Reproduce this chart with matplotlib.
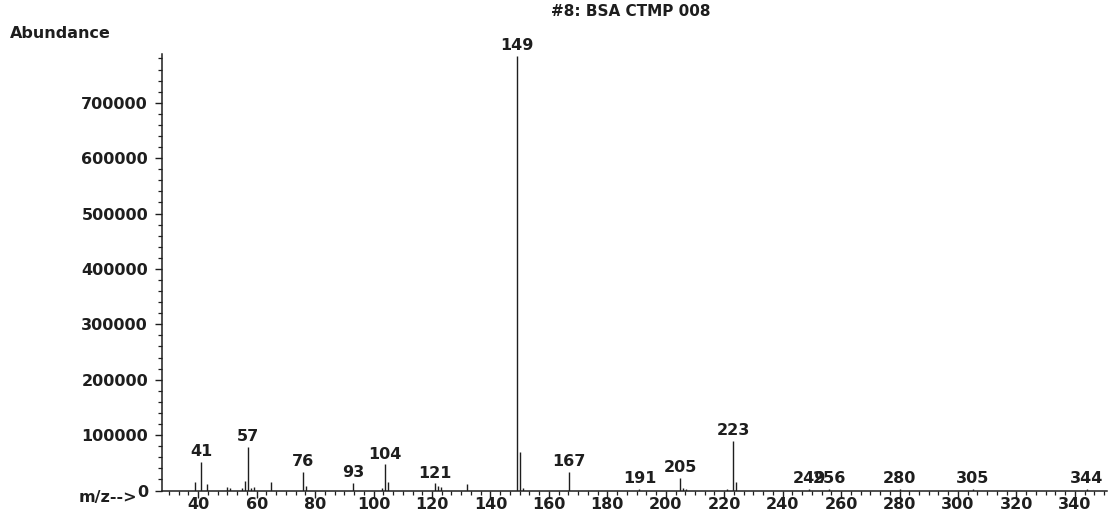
import matplotlib
matplotlib.use("Agg")
import matplotlib.pyplot as plt
from matplotlib.ticker import MultipleLocator, StrMethodFormatter

# m/z values and abundances
mz = [39, 41, 43, 50, 51, 55, 56, 57, 58, 59, 65, 76, 77, 93, 103, 104, 105,
      121, 122, 123, 132, 149, 150, 151, 167, 191, 205, 206, 207, 221, 223, 224,
      249, 256, 280, 305, 344]
abundance = [16000, 51000, 11000, 7000, 4000, 5000, 18000, 79000, 5000, 6000,
             15000, 33000, 9000, 14000, 4000, 47000, 15000, 13000, 8000, 6000,
             12000, 785000, 69000, 4000, 34000, 2500, 23000, 4000, 3000, 2000,
             90000, 15000, 2500, 2500, 2500, 2500, 2500]
labelled = [41, 57, 76, 93, 104, 121, 149, 167, 191, 205, 223, 249, 256, 280, 305, 344]

title = "#8: BSA CTMP 008"
ink = "#1e1e1e"
fsize = 11.5

plt.rcParams['font.family'] = 'DejaVu Sans'
plt.rcParams['font.weight'] = 'bold'

W, H = 1109, 511
fig = plt.figure(figsize=(W / 100, H / 100), dpi=100)
ax = fig.add_axes([162 / W, 20.5 / H, (1107 - 162) / W, (490.5 - 54) / H])

ax.vlines(mz, 0, abundance, color=ink, linewidth=1.0)

for m, a in zip(mz, abundance):
    if m in labelled:
        ax.annotate(str(m), (m, a), xytext=(0, 2), textcoords='offset points',
                    ha='center', va='bottom', fontsize=fsize, color=ink,
                    fontweight='bold', annotation_clip=False)

ax.set_xlim(27.6, 351)
ax.set_ylim(0, 788000)

ax.spines['top'].set_visible(False)
ax.spines['right'].set_visible(False)
ax.spines['left'].set_color(ink)
ax.spines['bottom'].set_color(ink)
ax.spines['left'].set_linewidth(1.1)
ax.spines['bottom'].set_linewidth(1.1)

ax.xaxis.set_minor_locator(MultipleLocator(20 / 6))
ax.set_xticks(range(40, 341, 20))
ax.yaxis.set_major_locator(MultipleLocator(100000))
ax.yaxis.set_minor_locator(MultipleLocator(20000))
ax.yaxis.set_major_formatter(StrMethodFormatter('{x:.0f}'))

ax.tick_params(axis='both', which='major', length=5, width=1.0, color=ink,
               labelsize=fsize, labelcolor=ink)
ax.tick_params(axis='both', which='minor', length=3, width=0.9, color=ink)
ax.tick_params(axis='x', which='major', pad=0)
ax.tick_params(axis='y', which='major', pad=5)

fig.text(631 / W, 1 - 12 / H, title, ha='center', va='center',
         fontsize=11, color=ink, fontweight='bold')
fig.text(10 / W, 1 - 34 / H, "Abundance", ha='left', va='center',
         fontsize=fsize, color=ink, fontweight='bold')
fig.text(137 / W, 1 - 497 / H, "m/z-->", ha='right', va='center',
         fontsize=fsize, color=ink, fontweight='bold')

fig.savefig("out.png", dpi=100, facecolor='white')
